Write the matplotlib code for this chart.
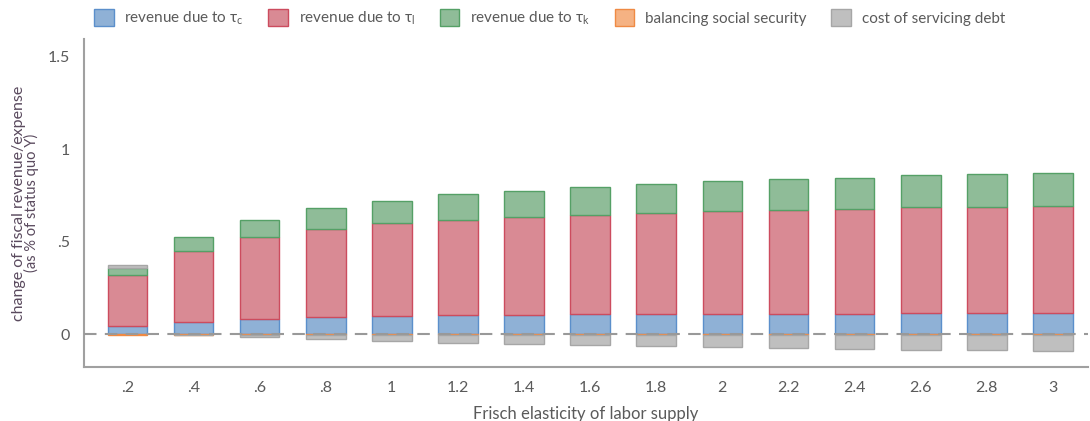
import matplotlib
matplotlib.use("Agg")
import matplotlib.pyplot as plt
from matplotlib.patches import Patch
import numpy as np

plt.rcParams['font.family'] = ['Lato', 'DejaVu Sans']
plt.rcParams['mathtext.fontset'] = 'custom'
plt.rcParams['mathtext.rm'] = 'Lato'
plt.rcParams['mathtext.it'] = 'Lato'

# ---- data ----
frisch = [0.2, 0.4, 0.6, 0.8, 1.0, 1.2, 1.4, 1.6, 1.8, 2.0, 2.2, 2.4, 2.6, 2.8, 3.0]
tick_labels = ['.2', '.4', '.6', '.8', '1', '1.2', '1.4', '1.6', '1.8', '2', '2.2', '2.4', '2.6', '2.8', '3']
rev_tau_c = [0.047, 0.069, 0.084, 0.093, 0.100, 0.104, 0.105, 0.109, 0.111, 0.112, 0.112, 0.112, 0.114, 0.114, 0.116]
rev_tau_l = [0.272, 0.383, 0.440, 0.476, 0.499, 0.513, 0.528, 0.535, 0.546, 0.554, 0.559, 0.566, 0.572, 0.572, 0.577]
rev_tau_k = [0.039, 0.072, 0.093, 0.111, 0.124, 0.139, 0.144, 0.153, 0.156, 0.163, 0.169, 0.169, 0.174, 0.178, 0.181]
social_security = [-0.003, -0.002, -0.002, -0.002, -0.002, -0.002, -0.002, -0.002, -0.002, -0.002, -0.002, -0.002, -0.002, -0.002, -0.002]
debt_service = [0.015, -0.002, -0.013, -0.024, -0.033, -0.042, -0.048, -0.056, -0.062, -0.067, -0.072, -0.075, -0.080, -0.082, -0.085]

series = [
    (rev_tau_c, r'revenue due to $\tau_{\mathrm{c}}$', '#8fb1d6', '#5b8fcb'),
    (rev_tau_l, r'revenue due to $\tau_{\mathrm{l}}$', '#d98a94', '#cc4c5e'),
    (rev_tau_k, r'revenue due to $\tau_{\mathrm{k}}$', '#8fbc98', '#55a066'),
    (social_security, 'balancing social security', '#f5b283', '#ef8a44'),
    (debt_service, 'cost of servicing debt', '#bfbfbf', '#a6a6a6'),
]

txt = '#5a5a5a'

fig = plt.figure(figsize=(10.9, 4.21), dpi=100)
ax = fig.add_axes([0.0768, 0.129, 0.921, 0.778])

x = np.array(frisch)
pos_base = np.zeros(len(x))
neg_base = np.zeros(len(x))
handles = []
for vals, label, fc, ec in series:
    v = np.array(vals)
    bottom = np.where(v >= 0, pos_base, neg_base)
    ax.bar(x, v, width=0.12, bottom=bottom, color=fc, edgecolor=ec, linewidth=1.0, zorder=2)
    pos_base = pos_base + np.where(v >= 0, v, 0)
    neg_base = neg_base + np.where(v < 0, v, 0)
    handles.append(Patch(facecolor=fc, edgecolor=ec, linewidth=1.0, label=label))

ax.axhline(0, color='#999999', lw=1.5, dashes=(6, 4), zorder=3)

ax.set_xlim(0.068, 3.105)
ax.set_ylim(-0.174, 1.594)
ax.set_xticks(frisch)
ax.set_xticklabels(tick_labels)
ax.set_yticks([0, 0.5, 1, 1.5])
ax.set_yticklabels(['0', '.5', '1', '1.5'])
ax.tick_params(axis='both', length=0, labelsize=11.5, colors=txt, pad=10)
for s in ['top', 'right']:
    ax.spines[s].set_visible(False)
for s in ['left', 'bottom']:
    ax.spines[s].set_color('#a0a0a0')
    ax.spines[s].set_linewidth(1.5)

ax.set_xlabel('Frisch elasticity of labor supply', fontsize=12, color=txt, labelpad=8)
fig.text(0.017, 0.517, 'change of fiscal revenue/expense', rotation=90, ha='center', va='center',
         fontsize=11.5, color='#5a4a5e')
fig.text(0.029, 0.517, '(as % of status quo Y)', rotation=90, ha='center', va='center',
         fontsize=10.5, color='#5a4a5e')

fig.legend(handles=handles, loc='center', bbox_to_anchor=(0.504, 0.957), ncol=5, frameon=False,
           fontsize=11, handlelength=1.3, handleheight=1.3, handletextpad=0.7,
           columnspacing=1.6, labelcolor=txt)

fig.savefig('out.png', dpi=100)
